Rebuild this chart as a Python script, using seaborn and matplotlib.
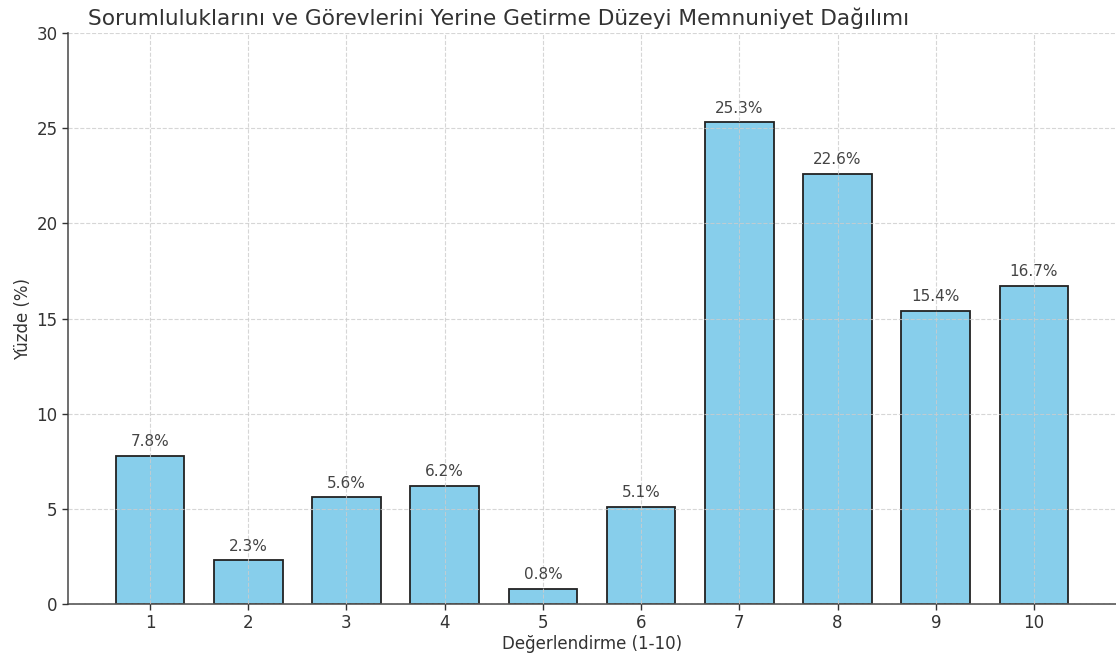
import matplotlib
matplotlib.use("Agg")
import matplotlib.pyplot as plt
import seaborn as sns
import pandas as pd

ratings = ["1", "2", "3", "4", "5", "6", "7", "8", "9", "10"]
percent = [7.8, 2.3, 5.6, 6.2, 0.8, 5.1, 25.3, 22.6, 15.4, 16.7]

df = pd.DataFrame({"rating": ratings, "percent": percent})

sns.set_theme(style="white")
plt.rcParams['font.family'] = ['DejaVu Sans']

fig = plt.figure(figsize=(11.16, 6.64), dpi=100)
ax = fig.add_axes([68 / 1116, 1 - 604 / 664, 1 - 68 / 1116, (604 - 33) / 664])

sns.barplot(data=df, x="rating", y="percent", order=ratings, color="#87CEEB",
            saturation=1, width=0.7, edgecolor="#222222", linewidth=1.3, ax=ax)

for i, v in enumerate(percent):
    ax.text(i, v + 0.35, f"{v}%", ha="center", va="bottom", fontsize=11, color="#444444")

ax.set_xlim(-0.835, 9.835)
ax.set_ylim(0, 30)
ax.set_yticks([0, 5, 10, 15, 20, 25, 30])
ax.grid(True, linestyle="--", color="#cccccc", linewidth=0.8, alpha=0.8)
ax.set_axisbelow(False)

for s in ["top", "right"]:
    ax.spines[s].set_visible(False)
for s in ["left", "bottom"]:
    ax.spines[s].set_color("#555555")
    ax.spines[s].set_linewidth(1.2)

ax.tick_params(axis="both", labelsize=12, colors="#333333", length=4, width=1, direction="out")
ax.tick_params(axis="both", bottom=True, left=True)
ax.set_xlabel("Değerlendirme (1-10)", fontsize=12, color="#333333", labelpad=2)
ax.set_ylabel("Yüzde (%)", fontsize=12, color="#333333", labelpad=3)

fig.text(499 / 1116, 1 - 18 / 664, "Sorumluluklarını ve Görevlerini Yerine Getirme Düzeyi Memnuniyet Dağılımı",
         ha="center", va="center", fontsize=15.6, color="#333333")

fig.savefig("out.png", dpi=100)
